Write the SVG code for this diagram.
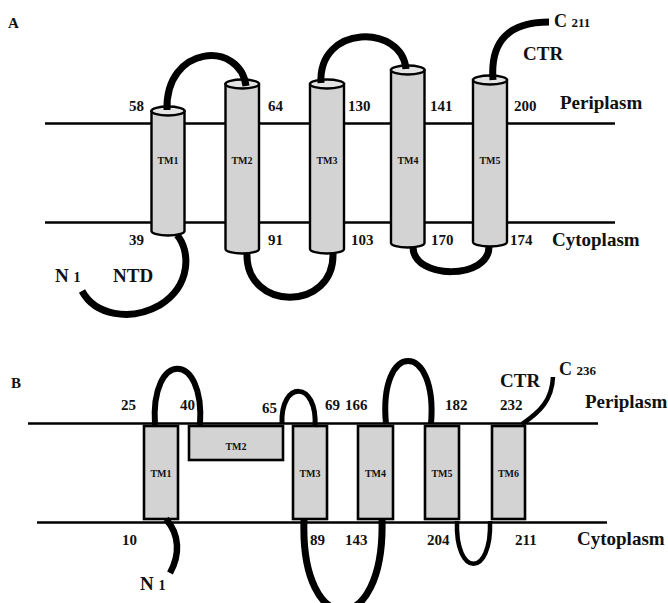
<svg xmlns="http://www.w3.org/2000/svg" width="668" height="603" viewBox="0 0 668 603">
<style>
.mem{stroke:#000;stroke-width:2.7;fill:none}
.cyl{fill:#d3d3d3;stroke:#000;stroke-width:2.4}
.cap{fill:#e4e4e4;stroke:#000;stroke-width:2.4}
.box{fill:#d3d3d3;stroke:#000;stroke-width:2.6}
.loop{fill:none;stroke:#000;stroke-width:7;stroke-linecap:butt}
.thin{stroke-width:4.5}
text{font-family:"Liberation Serif","Times New Roman",serif;font-weight:bold;fill:#111}
.num{font-size:15px}
.big{font-size:19px}
.tm{font-size:10px;text-anchor:middle}
.pl{font-size:16px}
</style>
<rect width="668" height="603" fill="#fff"/>
<g id="panelA-membrane">
<line class="mem" x1="45" y1="123.5" x2="615" y2="123.5"/>
<line class="mem" x1="45" y1="222.5" x2="615" y2="222.5"/>
</g>
<g id="A-TM1"><path class="cyl" d="M151.5,111 L151.5,231 A16.5,4.5 0 0 0 184.5,231 L184.5,111 Z"/><ellipse class="cap" cx="168" cy="111" rx="16.5" ry="4.5"/><text class="tm" x="168" y="163.5">TM1</text></g>
<g id="A-TM2"><path class="cyl" d="M225.5,84 L225.5,249 A16.75,4.5 0 0 0 259,249 L259,84 Z"/><ellipse class="cap" cx="242.25" cy="84" rx="16.75" ry="4.5"/><text class="tm" x="242" y="163.5">TM2</text></g>
<g id="A-TM3"><path class="cyl" d="M310,84 L310,249 A17,4.5 0 0 0 344,249 L344,84 Z"/><ellipse class="cap" cx="327" cy="84" rx="17" ry="4.5"/><text class="tm" x="327" y="163.5">TM3</text></g>
<g id="A-TM4"><path class="cyl" d="M391,70 L391,243 A16.75,4.5 0 0 0 424.5,243 L424.5,70 Z"/><ellipse class="cap" cx="407.75" cy="70" rx="16.75" ry="4.5"/><text class="tm" x="408" y="163.5">TM4</text></g>
<g id="A-TM5"><path class="cyl" d="M473,80 L473,242 A17,4.5 0 0 0 507,242 L507,80 Z"/><ellipse class="cap" cx="490" cy="80" rx="17" ry="4.5"/><text class="tm" x="490" y="163.5">TM5</text></g>
<g id="A-connectors">
<path class="loop" d="M167,110 C165,45 240,40 246,86"/>
<path class="loop" d="M321,83 C318,24 402,24 406,69"/>
<path class="loop" d="M493,80 C490,40 510,22 549,22"/>
<path class="loop" d="M247,253 C245,312 335,312 333,253"/>
<path class="loop" d="M413,247 C413,280 490,280 489,246"/>
<path class="loop" d="M177,235 C190,250 192,285 160,305 C130,322 95,315 82,291"/>
</g>
<g id="A-labels">
<text x="8" y="28" style="font-size:15px">A</text>
<text class="num" x="129" y="111">58</text>
<text class="num" x="268" y="111">64</text>
<text class="num" x="348" y="111">130</text>
<text class="num" x="430" y="111">141</text>
<text class="num" x="514" y="111">200</text>
<text class="big" x="560" y="109">Periplasm</text>
<text class="num" x="129" y="245">39</text>
<text class="num" x="268" y="245">91</text>
<text class="num" x="351" y="245">103</text>
<text class="num" x="431" y="245">170</text>
<text class="num" x="510" y="245">174</text>
<text class="big" x="552" y="246">Cytoplasm</text>
<text class="big" x="55" y="282">N <tspan style="font-size:14px">1</tspan></text>
<text class="big" x="113" y="282">NTD</text>
<text class="big" x="523" y="60">CTR</text>
<text x="554" y="27" style="font-size:18px">C <tspan style="font-size:13px">211</tspan></text>
</g>
<g id="panelB-membrane">
<line class="mem" x1="28" y1="423.5" x2="598" y2="423.5"/>
<line class="mem" x1="37" y1="522.5" x2="607" y2="522.5"/>
</g>
<g id="B-TM1"><rect class="box" x="144" y="426" width="34" height="93"/><text class="tm" x="161" y="477">TM1</text></g>
<g id="B-TM2"><rect class="box" x="189" y="426" width="94" height="34"/><text class="tm" x="236" y="450">TM2</text></g>
<g id="B-TM3"><rect class="box" x="293" y="426" width="34" height="93"/><text class="tm" x="310" y="477">TM3</text></g>
<g id="B-TM4"><rect class="box" x="358" y="426" width="35" height="93"/><text class="tm" x="375.5" y="477">TM4</text></g>
<g id="B-TM5"><rect class="box" x="425" y="426" width="34" height="93"/><text class="tm" x="442" y="477">TM5</text></g>
<g id="B-TM6"><rect class="box" x="492" y="426" width="33" height="93"/><text class="tm" x="508.5" y="477">TM6</text></g>
<g id="B-connectors">
<path class="loop" style="stroke-width:6" d="M155,425 C150,350 205,350 200,425"/>
<path class="loop" style="stroke-width:5" d="M282,424 C280,380 318,380 315,427"/>
<path class="loop" style="stroke-width:6" d="M386,424 C378,340 438,340 431,424"/>
<path class="loop thin" d="M522,424 C540,412 552,400 553,377"/>
<path class="loop" style="stroke-width:6.5" d="M166,519 C180,535 180,555 170,573"/>
<path class="loop" d="M304,520 C300,640 385,640 382,520"/>
<path class="loop thin" d="M457,521 C455,578 492,578 490,521"/>
</g>
<g id="B-labels">
<text x="11" y="388" style="font-size:15px">B</text>
<text class="num" x="121" y="410">25</text>
<text class="num" x="180" y="410">40</text>
<text class="num" x="262" y="413">65</text>
<text class="num" x="325" y="410">69</text>
<text class="num" x="345" y="410">166</text>
<text class="num" x="445" y="410">182</text>
<text class="num" x="500" y="410">232</text>
<text class="big" x="585" y="408">Periplasm</text>
<text class="big" x="500" y="387">CTR</text>
<text x="559" y="375" style="font-size:18px">C <tspan style="font-size:13px">236</tspan></text>
<text class="num" x="122" y="545">10</text>
<text class="num" x="310" y="545">89</text>
<text class="num" x="345" y="545">143</text>
<text class="num" x="427" y="545">204</text>
<text class="num" x="515" y="545">211</text>
<text class="big" x="577" y="545">Cytoplasm</text>
<text class="big" x="140" y="590">N <tspan style="font-size:14px">1</tspan></text>
</g>
</svg>
